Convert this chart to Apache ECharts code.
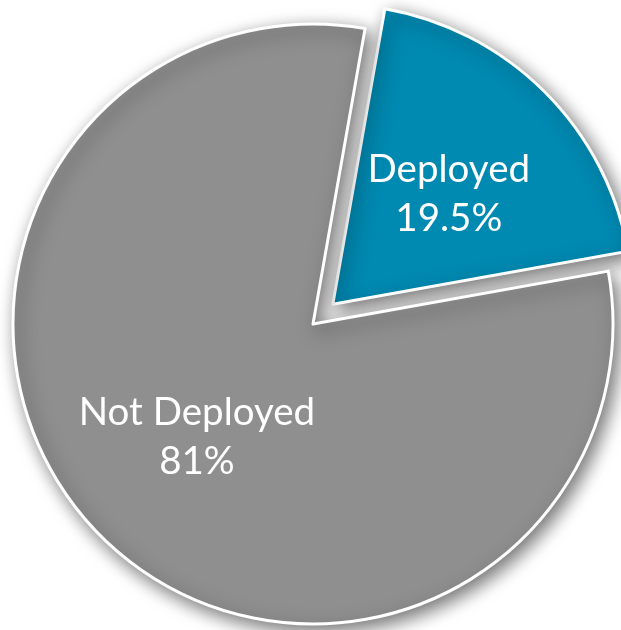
<!DOCTYPE html>
<html>
<head>
<meta charset="utf-8">
<script src="https://cdn.jsdelivr.net/npm/echarts@6/dist/echarts.min.js"></script>
<style>
html,body{margin:0;padding:0;background:#fff;}
#chart{width:621px;height:630px;}
</style>
</head>
<body>
<div id="chart"></div>
<script>
const categories = ['Deployed', 'Not Deployed'];
const values = [19.5, 81];
const colors = ['#0089b1', '#8f8f8f'];
const labelShift = [[8, -2], [-8, 5]];

const chart = echarts.init(document.getElementById('chart'), null, {renderer: 'canvas'});
const data = categories.map((c, i) => ({
  name: c,
  value: values[i],
  selected: i === 0,
  itemStyle: {color: colors[i]},
  label: {offset: labelShift[i]},
  select: {label: {offset: labelShift[i]}}
}));
chart.setOption({
  animation: false,
  series: [{
    type: 'pie',
    center: [313, 324],
    radius: [0, 300],
    startAngle: 80,
    clockwise: true,
    selectedMode: 'single',
    selectedOffset: 28,
    data: data,
    itemStyle: {
      borderColor: '#ffffff',
      borderWidth: 3,
      shadowBlur: 18,
      shadowColor: 'rgba(0,0,0,0.55)',
      shadowOffsetX: 5,
      shadowOffsetY: 6
    },
    label: {
      show: true,
      position: 'inside',
      color: '#ffffff',
      fontFamily: 'Lato',
      fontSize: 38.5,
      lineHeight: 49,
      formatter: p => p.name + '\n' + p.value + '%'
    },
    labelLine: {show: false},
    emphasis: {disabled: true}
  }]
});
</script>
</body>
</html>
